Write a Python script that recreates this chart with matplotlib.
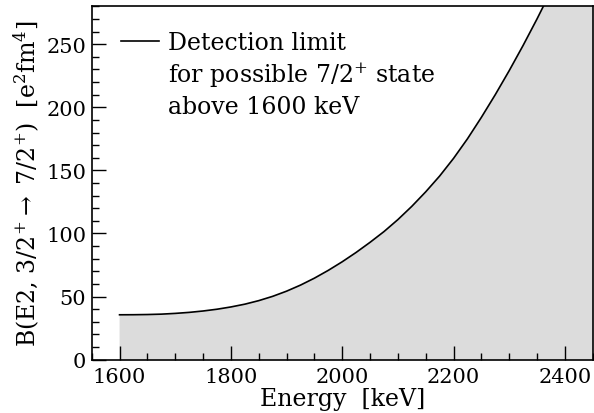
import numpy as np
import matplotlib
matplotlib.use("Agg")
import matplotlib.pyplot as plt
from matplotlib.lines import Line2D
from matplotlib.ticker import MultipleLocator

# detection limit curve
energy = [1600, 1625, 1650, 1675, 1700, 1725, 1750, 1775, 1800, 1825,
          1850, 1875, 1900, 1925, 1950, 1975, 2000, 2025, 2050, 2075,
          2100, 2125, 2150, 2175, 2200, 2225, 2250, 2275, 2300, 2325,
          2350, 2375, 2400, 2425, 2450]
b_e2 = [35.6, 35.65, 35.8, 36.1, 36.7, 37.5, 38.6, 40.0, 41.8, 44.0,
        46.8, 50.2, 54.3, 59.1, 64.6, 70.8, 77.6, 85.0, 93.0, 101.5,
        111.0, 121.5, 133.0, 145.5, 159.5, 175.0, 192.0, 210.0, 229.0, 249.0,
        270.0, 292.0, 315.0, 339.0, 364.0]

legend_lines = ["Detection limit", "for possible 7/2$^{+}$ state", "above 1600 keV"]

plt.rcParams['font.family'] = ['DejaVu Serif']
plt.rcParams['mathtext.fontset'] = 'dejavuserif'

fig = plt.figure(figsize=(5.94, 4.14), dpi=100)
ax = fig.add_axes([0.1544, 0.1287, 0.8434, 0.8537])

ax.fill_between(energy, 0, b_e2, color='#dcdcdc', lw=0)
line, = ax.plot(energy, b_e2, color='black', lw=1.2)

ax.set_xlim(1550, 2450)
ax.set_ylim(0, 280)
ax.xaxis.set_major_locator(MultipleLocator(200))
ax.xaxis.set_minor_locator(MultipleLocator(50))
ax.yaxis.set_major_locator(MultipleLocator(50))
ax.yaxis.set_minor_locator(MultipleLocator(10))
ax.tick_params(which='both', direction='in', top=False, right=False, labelsize=15)
ax.tick_params(which='major', length=10, width=1)
ax.tick_params(which='minor', length=5, width=1)
ax.tick_params(axis='x', pad=5)
ax.tick_params(axis='y', pad=4)
for s in ax.spines.values():
    s.set_linewidth(1.2)

ax.set_xlabel("Energy  [keV]", fontsize=17, labelpad=1.0)
ax.set_ylabel("B(E2, 3/2$^{+}$$\\rightarrow$ 7/2$^{+}$)  [e$^{2}$fm$^{4}$]",
              fontsize=17, labelpad=3)

blank = Line2D([], [], color='none')
ax.legend([line, blank, blank], legend_lines, loc='upper left', frameon=False,
          fontsize=17, handlelength=1.6, handletextpad=0.4, labelspacing=0.25,
          borderpad=0, borderaxespad=0, bbox_to_anchor=(0.058, 0.93))

fig.savefig("out.png", dpi=100)
